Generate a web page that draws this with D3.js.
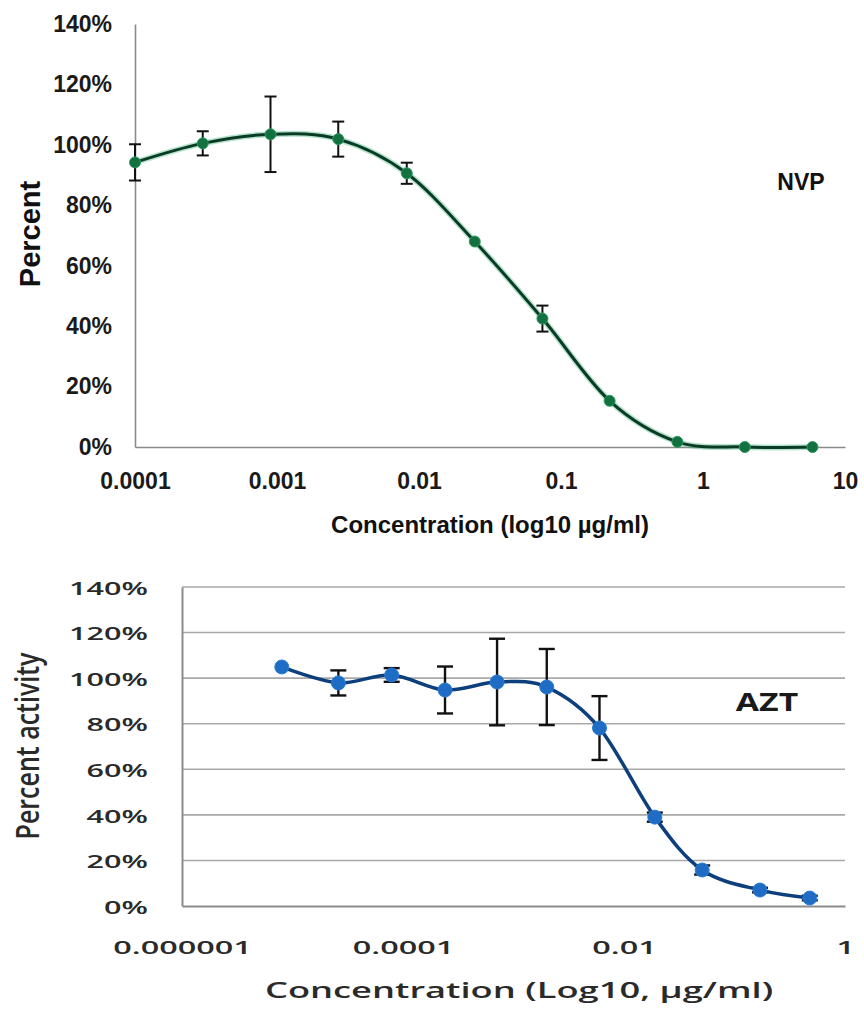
<!DOCTYPE html>
<html>
<head>
<meta charset="utf-8">
<script src="https://cdn.jsdelivr.net/npm/d3@7"></script>
<style>
  html, body { margin: 0; padding: 0; background: #fff; }
  svg { display: block; }
</style>
</head>
<body>
<svg id="chart" width="864" height="1010"></svg>
<script>
// ---- NVP dose-response (top panel) ----
const nvpConc = [0.0001, 0.0003, 0.0009, 0.0027, 0.0082, 0.0247, 0.074, 0.22, 0.66, 1.97, 5.9];
const nvpPct  = [94.2, 100.5, 103.5, 101.9, 90.6, 68.0, 42.5, 15.3, 1.7, 0, 0];
const nvpErr  = [6.0, 4.0, 12.5, 5.8, 3.5, 0, 4.3, 0, 0, 0, 0];
const nvpXTicks = [0.0001, 0.001, 0.01, 0.1, 1, 10];
const nvpXLabels = ["0.0001", "0.001", "0.01", "0.1", "1", "10"];

// ---- AZT dose-response (bottom panel) ----
const aztConc = [8.0e-6, 2.6e-5, 7.9e-5, 2.4e-4, 7.1e-4, 2.0e-3, 6.0e-3, 0.019, 0.051, 0.17, 0.48];
const aztPct  = [104.9, 97.9, 101.4, 94.8, 98.3, 96.1, 78.1, 39.0, 15.8, 7.0, 3.5];
const aztErr  = [0, 5.5, 3.0, 10.3, 19.0, 16.7, 14.0, 2.0, 2.0, 1.0, 1.0];
const aztXTicks = [1e-6, 1e-4, 1e-2, 1];
const aztXLabels = ["0.000001", "0.0001", "0.01", "1"];

const yTicks = [0, 20, 40, 60, 80, 100, 120, 140];

const svg = d3.select("#chart");

// ================= Top panel =================
const topFont = "'Liberation Sans', Arial, sans-serif";
const xTop = d3.scaleLog().domain([1e-4, 10]).range([135, 845]);
const yTop = d3.scaleLinear().domain([0, 140]).range([447, 24]);
const gTop = svg.append("g");

const topY = gTop.append("g")
  .attr("transform", `translate(${xTop.range()[0]},0)`)
  .call(d3.axisLeft(yTop).tickValues(yTicks).tickSize(0).tickPadding(23)
        .tickFormat(d => d + "%"));
const topX = gTop.append("g")
  .attr("transform", `translate(0,${yTop(0)})`)
  .call(d3.axisBottom(xTop).tickValues(nvpXTicks).tickSize(0).tickPadding(26)
        .tickFormat((d, i) => nvpXLabels[i]));
[topY, topX].forEach(a => {
  a.select(".domain").attr("stroke", "#8a8a8a").attr("stroke-width", 1.6);
  a.selectAll("text").attr("font-family", topFont).attr("font-weight", "bold")
    .attr("font-size", 23).attr("fill", "#1a1a1a");
});

const nvpData = nvpConc.map((c, i) => ({ c, p: nvpPct[i], e: nvpErr[i] }));

// error bars
const topErr = gTop.append("g").attr("stroke", "#111").attr("stroke-width", 2);
nvpData.filter(d => d.e > 0).forEach(d => {
  const x = xTop(d.c), y1 = yTop(d.p + d.e), y2 = yTop(d.p - d.e);
  topErr.append("line").attr("x1", x).attr("x2", x).attr("y1", y1).attr("y2", y2);
  topErr.append("line").attr("x1", x - 6).attr("x2", x + 6).attr("y1", y1).attr("y2", y1);
  topErr.append("line").attr("x1", x - 6).attr("x2", x + 6).attr("y1", y2).attr("y2", y2);
});

const topLine = d3.line().x(d => xTop(d.c)).y(d => yTop(d.p)).curve(d3.curveCatmullRom.alpha(0));
gTop.append("path").datum(nvpData).attr("d", topLine)
  .attr("fill", "none").attr("stroke", "#2fae74").attr("stroke-opacity", 0.35).attr("stroke-width", 6);
gTop.append("path").datum(nvpData).attr("d", topLine)
  .attr("fill", "none").attr("stroke", "#0a3b24").attr("stroke-width", 3);
gTop.append("g").selectAll("circle").data(nvpData).join("circle")
  .attr("cx", d => xTop(d.c)).attr("cy", d => yTop(d.p)).attr("r", 5.5)
  .attr("fill", "#13703f").attr("stroke", "#2d9a62").attr("stroke-width", 1);

gTop.append("text").attr("x", 801).attr("y", 190).attr("text-anchor", "middle")
  .attr("font-family", topFont).attr("font-weight", "bold").attr("font-size", 23)
  .attr("fill", "#111").text("NVP");
gTop.append("text").attr("x", 490).attr("y", 533).attr("text-anchor", "middle")
  .attr("font-family", topFont).attr("font-weight", "bold").attr("font-size", 24)
  .attr("fill", "#111").text("Concentration (log10 µg/ml)");
gTop.append("text").attr("transform", "translate(40,234) rotate(-90)").attr("text-anchor", "middle")
  .attr("font-family", topFont).attr("font-weight", "bold").attr("font-size", 29)
  .attr("fill", "#111").text("Percent");

// ================= Bottom panel =================
const botFont = "'Open Sans', 'DejaVu Sans', sans-serif";
const xBot = d3.scaleLog().domain([1e-6, 1]).range([182, 845]);
const yBot = d3.scaleLinear().domain([0, 140]).range([906, 587]);
const gBot = svg.append("g");

// horizontal gridlines
gBot.append("g").selectAll("line").data(yTicks.slice(1)).join("line")
  .attr("x1", xBot.range()[0]).attr("x2", xBot.range()[1])
  .attr("y1", d => yBot(d)).attr("y2", d => yBot(d))
  .attr("stroke", "#a9a9a9").attr("stroke-width", 1.6);

const botY = gBot.append("g")
  .attr("transform", `translate(${xBot.range()[0]},0)`)
  .call(d3.axisLeft(yBot).tickValues(yTicks).tickSize(0).tickFormat(d => d + "%"));
botY.select(".domain").attr("stroke", "#8c8c8c").attr("stroke-width", 2);
botY.selectAll("text").attr("x", 0).attr("dy", null).attr("dominant-baseline", "central")
  .attr("transform", "translate(-34,0) scale(1.7,1)")
  .attr("font-family", botFont).attr("font-weight", 600).attr("font-size", 18).attr("fill", "#2a2a2a");

const botX = gBot.append("g")
  .attr("transform", `translate(0,${yBot(0)})`)
  .call(d3.axisBottom(xBot).tickValues(aztXTicks).tickSize(0)
        .tickFormat((d, i) => aztXLabels[i]));
botX.select(".domain").attr("stroke", "#8c8c8c").attr("stroke-width", 2);
botX.selectAll("text").attr("y", 0).attr("dy", null).attr("dominant-baseline", "central")
  .attr("transform", "translate(0,41) scale(1.8,1)")
  .attr("font-family", botFont).attr("font-weight", 600).attr("font-size", 18).attr("fill", "#2a2a2a");

const aztData = aztConc.map((c, i) => ({ c, p: aztPct[i], e: aztErr[i] }));

const botErr = gBot.append("g").attr("stroke", "#111").attr("stroke-width", 2.4);
aztData.filter(d => d.e > 0).forEach(d => {
  const x = xBot(d.c), y1 = yBot(d.p + d.e), y2 = yBot(d.p - d.e);
  botErr.append("line").attr("x1", x).attr("x2", x).attr("y1", y1).attr("y2", y2);
  botErr.append("line").attr("x1", x - 8).attr("x2", x + 8).attr("y1", y1).attr("y2", y1);
  botErr.append("line").attr("x1", x - 8).attr("x2", x + 8).attr("y1", y2).attr("y2", y2);
});

const botLine = d3.line().x(d => xBot(d.c)).y(d => yBot(d.p)).curve(d3.curveCatmullRom.alpha(0));
gBot.append("path").datum(aztData).attr("d", botLine)
  .attr("fill", "none").attr("stroke", "#0c3f7c").attr("stroke-width", 3.5);
gBot.append("g").selectAll("circle").data(aztData).join("circle")
  .attr("cx", d => xBot(d.c)).attr("cy", d => yBot(d.p)).attr("r", 7)
  .attr("fill", "#1f6cc4").attr("stroke", "#2a7bd6").attr("stroke-width", 1);

gBot.append("text").attr("transform", "translate(767,711) scale(1.35,1)").attr("text-anchor", "middle")
  .attr("font-family", botFont).attr("font-weight", "bold").attr("font-size", 25)
  .attr("fill", "#1a1a1a").text("AZT");
gBot.append("text").attr("transform", "translate(519,998) scale(1.65,1)").attr("text-anchor", "middle")
  .attr("font-family", botFont).attr("font-weight", 600).attr("font-size", 22)
  .attr("fill", "#2a2a2a").text("Concentration (Log10, µg/ml)");
gBot.append("text").attr("transform", "translate(39,746) scale(1.3,1) rotate(-90)").attr("text-anchor", "middle")
  .attr("font-family", botFont).attr("font-weight", 600).attr("font-size", 25)
  .attr("fill", "#2a2a2a").text("Percent activity");
</script>
</body>
</html>
